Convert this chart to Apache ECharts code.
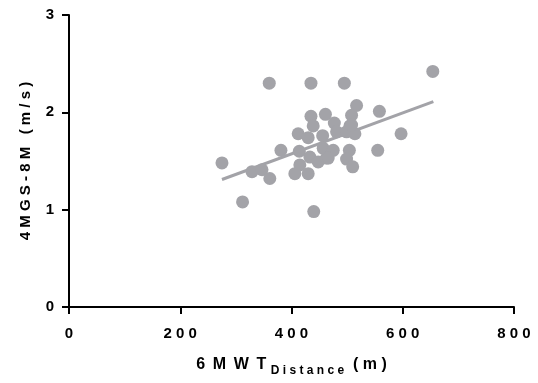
<!DOCTYPE html>
<html>
<head>
<meta charset="utf-8">
<script src="https://cdn.jsdelivr.net/npm/echarts@6/dist/echarts.min.js"></script>
<style>
  html, body { margin: 0; padding: 0; background: #fff; }
  #chart { width: 538px; height: 383px; }
</style>
</head>
<body>
<div id="chart"></div>
<script>
// 6MWT distance (m) vs 4MGS-8M speed (m/s)
const distance = [654, 360, 435, 495, 517, 558, 461, 435, 508, 477, 439, 505, 412, 430, 597, 481, 499, 514, 456,
    381, 414, 457, 475, 504, 555, 275, 433, 448, 463, 499, 510, 415, 329, 347, 361, 406, 430, 312, 440, 508, 466];
const speed = [2.42, 2.30, 2.30, 2.30, 2.07, 2.01, 1.98, 1.96, 1.97, 1.89, 1.86, 1.86, 1.78, 1.74, 1.78, 1.80, 1.80, 1.78, 1.76,
    1.61, 1.60, 1.63, 1.61, 1.61, 1.61, 1.48, 1.54, 1.49, 1.53, 1.52, 1.44, 1.46, 1.39, 1.41, 1.32, 1.37, 1.37, 1.08, 0.98, 1.87, 1.53];
// regression line end points
const fitX = [275, 655];
const fitY = [1.31, 2.11];

const xTicks = [0, 200, 400, 600, 800];
const yTicks = [0, 1, 2, 3];

// the original spreads its letters apart
function spaced(s, gap) {
    return String(s).split("").join(gap || " ");
}

const chart = echarts.init(document.getElementById("chart"));
const font = "'Liberation Sans', Arial, sans-serif";

const points = distance.map((d, i) => [d, speed[i]]);
const fit = fitX.map((d, i) => [d, fitY[i]]);

chart.setOption({
    animation: false,
    grid: { left: 69, right: 24, top: 15, bottom: 76 },
    xAxis: {
        type: "value",
        min: xTicks[0],
        max: xTicks[xTicks.length - 1],
        interval: 200,
        splitLine: { show: false },
        axisLine: { show: true, lineStyle: { color: "#000", width: 2 } },
        axisTick: { show: true, inside: false, length: 7, lineStyle: { color: "#000", width: 2 } },
        axisLabel: {
            margin: 19, color: "#000", fontFamily: font, fontWeight: "bold", fontSize: 15,
            formatter: v => spaced(v)
        },
        name: "{a|" + spaced("6MWT", " \u2009") + " }{b|" + spaced("Distance") + "}{a|  " + spaced("(m)") + "}",
        nameLocation: "middle",
        nameGap: 46,
        nameTextStyle: {
            rich: {
                a: { fontFamily: font, fontWeight: "bold", fontSize: 16, color: "#000" },
                b: { fontFamily: font, fontWeight: "bold", fontSize: 12, color: "#000", padding: [12, 0, 0, 0] }
            }
        }
    },
    yAxis: {
        type: "value",
        min: yTicks[0],
        max: yTicks[yTicks.length - 1],
        interval: 1,
        splitLine: { show: false },
        axisLine: { show: true, lineStyle: { color: "#000", width: 2 } },
        axisTick: { show: true, inside: false, length: 7, lineStyle: { color: "#000", width: 2 } },
        axisLabel: { margin: 15, color: "#000", fontFamily: font, fontWeight: "bold", fontSize: 15 },
        name: spaced("4MGS-8M") + "   " + spaced("(m/s)"),
        nameLocation: "middle",
        nameGap: 36,
        nameTextStyle: { fontFamily: font, fontWeight: "bold", fontSize: 15, color: "#000" }
    },
    series: [
        {
            type: "line",
            data: fit,
            symbol: "none",
            lineStyle: { color: "#a3a3a8", width: 3 },
            z: 1
        },
        {
            type: "scatter",
            data: points,
            symbolSize: 13,
            itemStyle: { color: "#a3a3a8", opacity: 1 },
            z: 2
        }
    ]
});
</script>
</body>
</html>
